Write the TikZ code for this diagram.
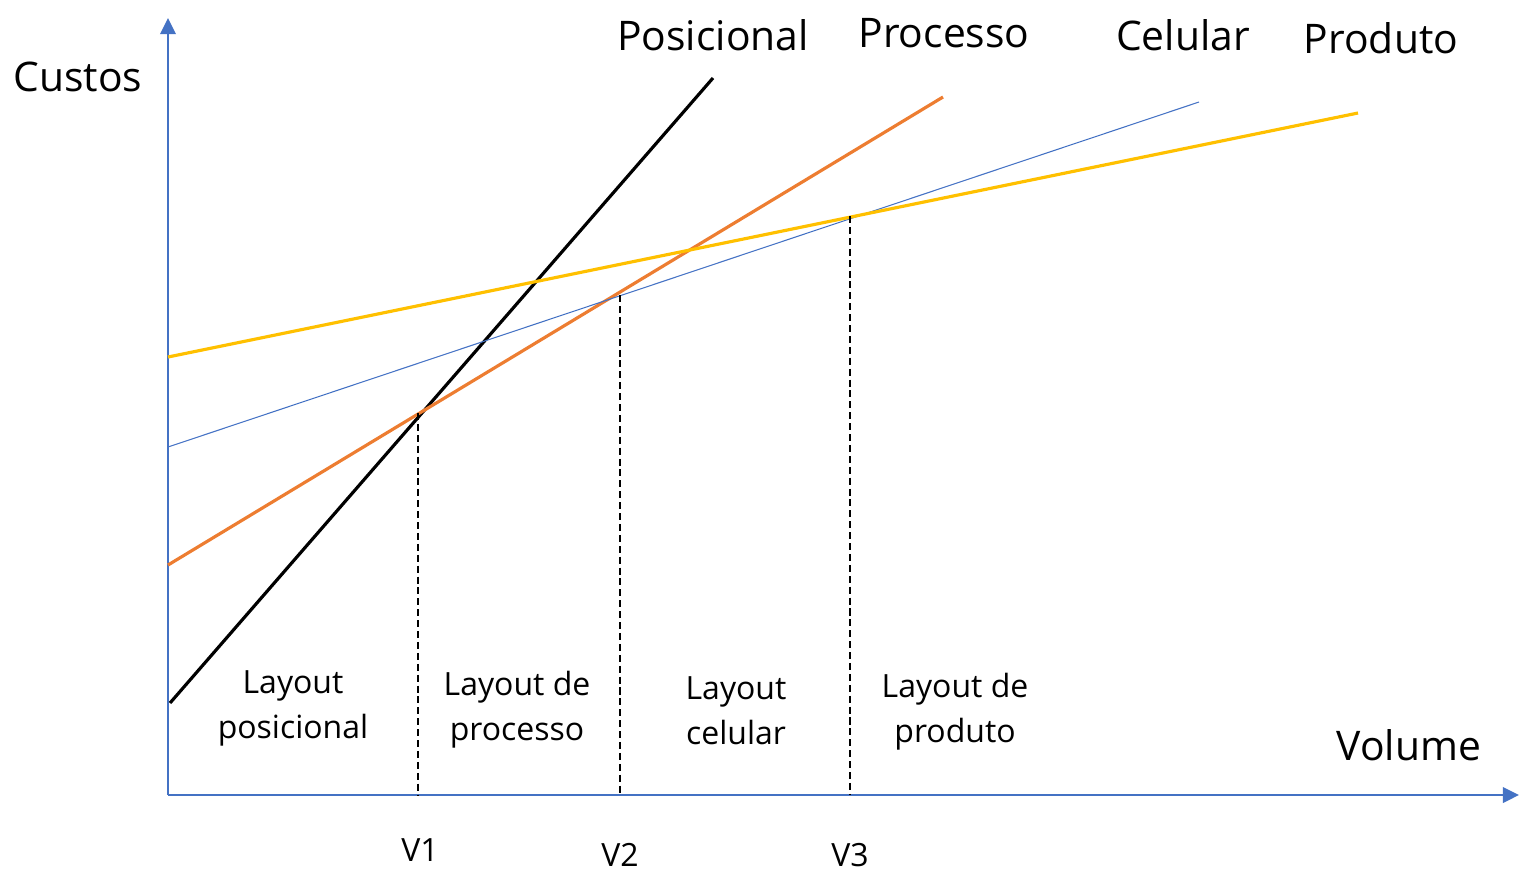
\documentclass[tikz,border=0pt]{standalone}
\usepackage{fontspec}
\setmainfont{Open Sans}
\usetikzlibrary{arrows.meta}
\definecolor{axisblue}{HTML}{4472C4}
\definecolor{procorange}{HTML}{ED7D31}
\definecolor{prodyellow}{HTML}{FFC000}
\tikzset{
  axis/.style={axisblue,line width=0.7pt,-{Triangle[length=4.6pt,width=4.4pt]}},
  costline/.style={line width=0.9pt},
  vline/.style={line width=0.6pt,dash pattern=on 2pt off 1.1pt},
  biglabel/.style={font=\fontsize{11.6}{14}\selectfont,inner sep=0pt},
  smalllabel/.style={font=\fontsize{9.1}{12.8}\selectfont,align=center,inner sep=0pt}
}
\begin{document}
\begin{tikzpicture}[x=0.01cm,y=-0.01cm]
\useasboundingbox (0,0) rectangle (1519,869);
% axes
\coordinate (O) at(168,795);
\coordinate (ytop) at(168,18);
\coordinate (xend) at(1519,795);
\draw [axis] (O) -- (ytop);
\draw [axis] (O) -- (xend);
% cost lines
\coordinate (pos1) at(170,703);
\coordinate (pos2) at(713,78);
\coordinate (proc1) at(168,565);
\coordinate (proc2) at(943,97);
\coordinate (cel1) at(168,447);
\coordinate (cel2) at(1199,102);
\coordinate (prod1) at(168,357);
\coordinate (prod2) at(1358,113);
\draw [costline,black] (pos1) -- (pos2);
\draw [costline,procorange] (proc1) -- (proc2);
\draw [axisblue,line width=0.3pt] (cel1) -- (cel2);
\draw [costline,prodyellow] (prod1) -- (prod2);
% break-even volumes
\coordinate (v1top) at(418,413);
\coordinate (v2top) at(620,295);
\coordinate (v3top) at(850,216);
\draw [vline] (v1top) -- (v1top |- O);
\draw [vline] (v2top) -- (v2top |- O);
\draw [vline] (v3top) -- (v3top |- O);
% labels
\node (custos) [biglabel] at(78,77) {Custos};
\node (volume) [biglabel] at(1409,745) {Volume};
\node (posicional) [biglabel] at(713,35) {Posicional};
\node (processo) [biglabel] at(944,33) {Processo};
\node (celular) [biglabel] at(1183,35) {Celular};
\node (produto) [biglabel] at(1381,38) {Produto};
\node (V1) [smalllabel] at(420,850) {V1};
\node (V2) [smalllabel] at(620,855) {V2};
\node (V3) [smalllabel] at(850,855) {V3};
\node (lpos) [smalllabel] at(293,708) {Layout\\posicional};
\node (lproc) [smalllabel] at(517,710) {Layout de\\processo};
\node (lcel) [smalllabel] at(736,711) {Layout\\celular};
\node (lprod) [smalllabel] at(955,712) {Layout de\\produto};
\end{tikzpicture}
\end{document}
